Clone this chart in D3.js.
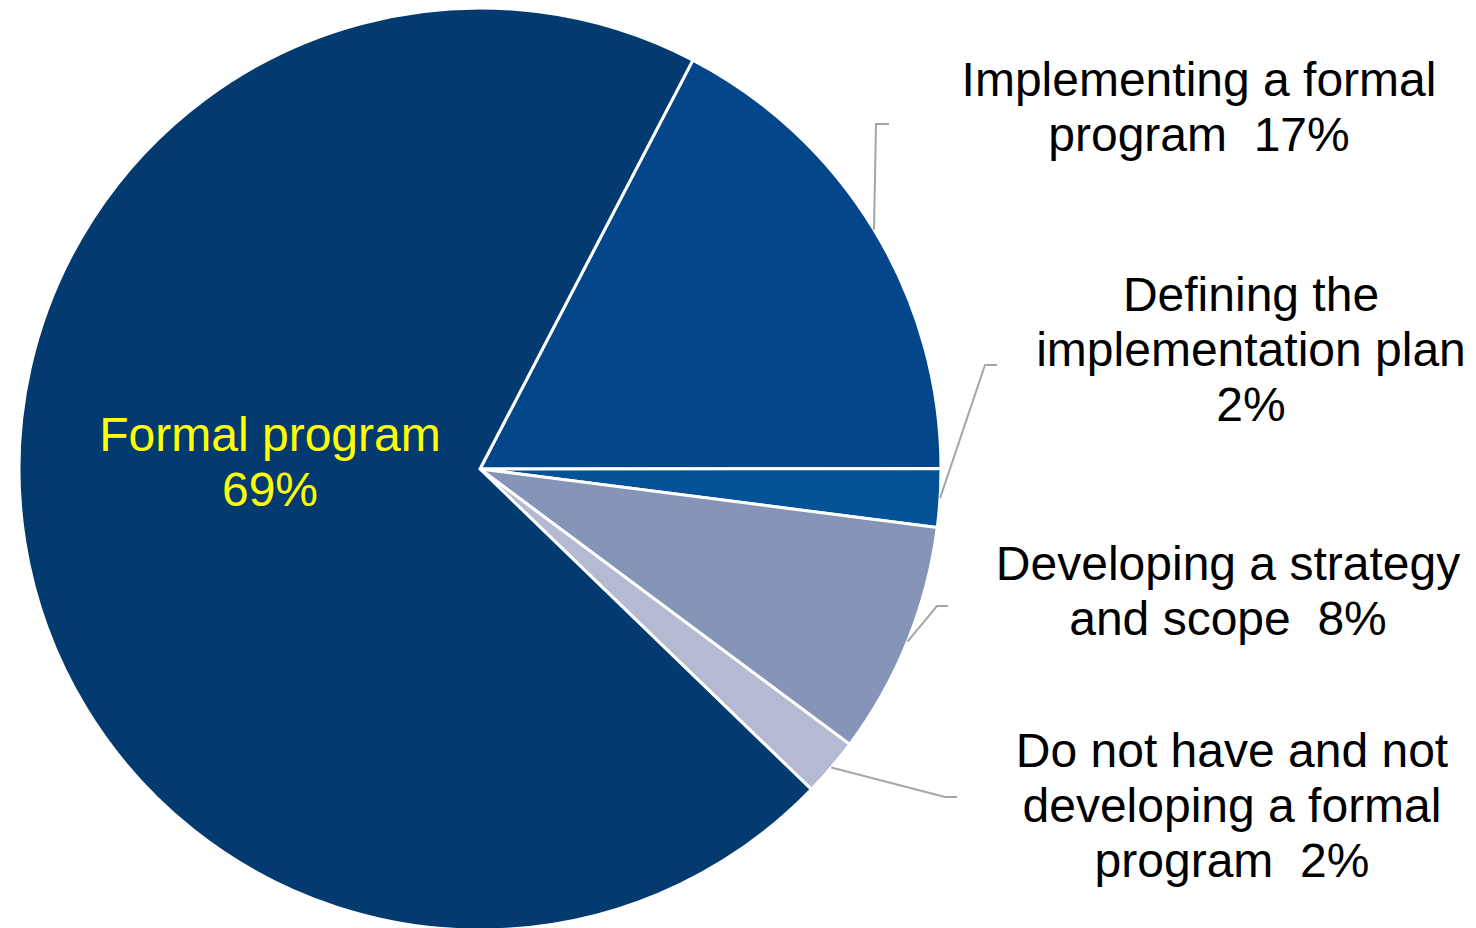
<!DOCTYPE html>
<html>
<head>
<meta charset="utf-8">
<script src="https://cdn.jsdelivr.net/npm/d3@7"></script>
<style>
  html, body { margin: 0; padding: 0; background: #ffffff; }
  svg { display: block; }
  text { font-family: Arial, "Liberation Sans", sans-serif; white-space: pre; }
</style>
</head>
<body>
<svg id="chart" width="1476" height="928"></svg>
<script>
// Survey responses: status of a formal program
const categories = [
  "Implementing a formal program",
  "Defining the implementation plan",
  "Developing a strategy and scope",
  "Do not have and not developing a formal program",
  "Formal program"
];
const values = [17, 2, 8, 2, 69];
const colors = ["#03468a", "#045399", "#8695b7", "#b4bad2", "#033a70"];

// Label text lines for each slice (same order as categories)
const labelLines = [
  ["Implementing a formal", "program  17%"],
  ["Defining the", "implementation plan", "2%"],
  ["Developing a strategy", "and scope  8%"],
  ["Do not have and not", "developing a formal", "program  2%"],
  ["Formal program", "69%"]
];

// Label layout: text anchor point (centre x, first baseline) and leader elbow
const labelLayout = [
  { x: 1199, y: 96,  elbow: [876, 124], end: [889, 124] },
  { x: 1251, y: 311, elbow: [985, 365], end: [997, 365] },
  { x: 1228, y: 580, elbow: [937, 606], end: [948, 606] },
  { x: 1232, y: 767, elbow: [945, 797], end: [957, 797] },
  { x: 270,  y: 451, inside: true }
];

const cx = 480, cy = 469, radius = 461;
const lineHeight = 55;

const svg = d3.select("#chart");
const g = svg.append("g").attr("transform", `translate(${cx},${cy})`);

const startDeg = 27.5;
const pie = d3.pie()
  .sort(null)
  .value(d => d)
  .startAngle(startDeg * Math.PI / 180)
  .endAngle((startDeg + 360) * Math.PI / 180);

const arcs = pie(values);
const arc = d3.arc().innerRadius(0).outerRadius(radius);

g.selectAll("path.slice")
  .data(arcs)
  .join("path")
  .attr("class", "slice")
  .attr("d", arc)
  .attr("fill", (d, i) => colors[i])
  .attr("stroke", "#ffffff")
  .attr("stroke-width", 3)
  .attr("stroke-linejoin", "miter");

// Leader lines from the outer arc midpoint of each slice to its label
const edgeArc = d3.arc().innerRadius(radius).outerRadius(radius);
arcs.forEach((d, i) => {
  const lay = labelLayout[i];
  if (lay.inside) return;
  const [sx, sy] = edgeArc.centroid(d);
  const pts = [[sx + cx, sy + cy], lay.elbow, lay.end];
  svg.append("path")
    .attr("d", d3.line()(pts))
    .attr("fill", "none")
    .attr("stroke", "#a6a6a6")
    .attr("stroke-width", 2);
});

// Slice labels
labelLines.forEach((lines, i) => {
  const lay = labelLayout[i];
  const t = svg.append("text")
    .attr("x", lay.x)
    .attr("y", lay.y)
    .attr("text-anchor", "middle")
    .attr("font-size", 48)
    .attr("fill", lay.inside ? "#ffff00" : "#000000");
  lines.forEach((ln, k) => {
    t.append("tspan")
      .attr("x", lay.x)
      .attr("y", lay.y + k * lineHeight)
      .text(ln);
  });
});
</script>
</body>
</html>
